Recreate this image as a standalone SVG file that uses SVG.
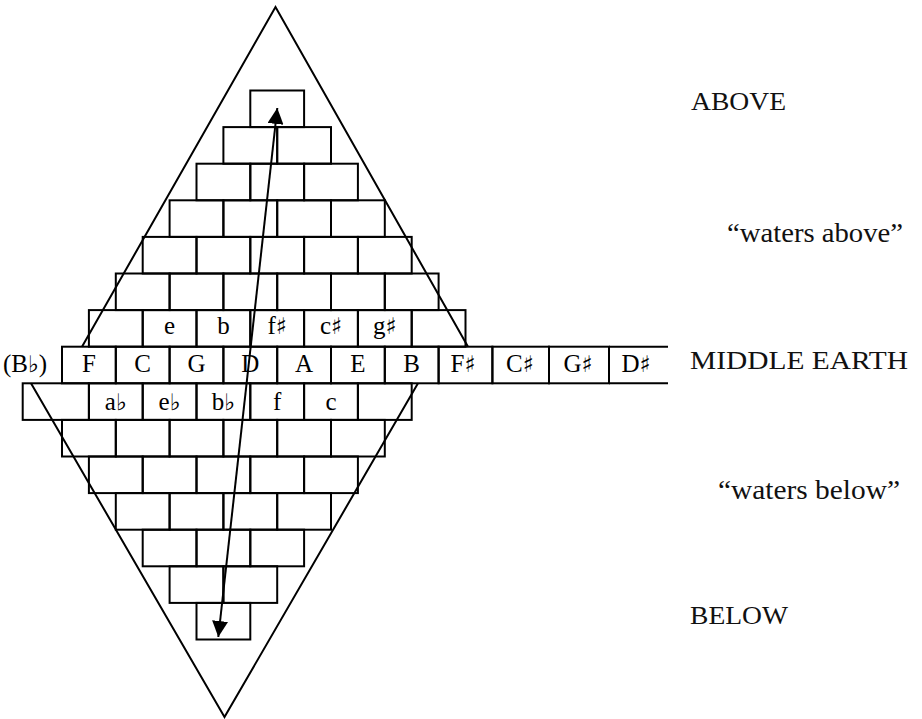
<svg xmlns="http://www.w3.org/2000/svg" width="922" height="719" viewBox="0 0 922 719">
  <style>
    .cell { fill: none; stroke: #000; stroke-width: 2; }
    .edge { fill: none; stroke: #000; stroke-width: 2; }
    .lbl { font-family: "Liberation Serif", "DejaVu Serif", serif; font-size: 25px; fill: #000; text-anchor: middle; }
    .side { font-family: "Liberation Serif", "DejaVu Serif", serif; font-size: 25px; fill: #111; }
    .low { font-size: 28px; }
    .acc { font-family: "DejaVu Serif", serif; font-size: 23px; }
  </style>
  <defs>
    <marker id="head" viewBox="0 0 15 15" refX="15" refY="7.5" markerWidth="16" markerHeight="16" markerUnits="userSpaceOnUse" orient="auto-start-reverse">
      <path d="M0,0 L15,7.5 L0,15 Z" fill="#000"/>
    </marker>
  </defs>
  <rect width="922" height="719" fill="#fff"/>

  <!-- upper half of the brick pyramid -->
  <g id="row-above-1">
    <rect class="cell" x="250.3" y="90.5" width="53.8" height="36.6"/>
  </g>
  <g id="row-above-2">
    <rect class="cell" x="223.4" y="127.1" width="53.8" height="36.6"/>
    <rect class="cell" x="277.2" y="127.1" width="53.8" height="36.6"/>
  </g>
  <g id="row-above-3">
    <rect class="cell" x="196.5" y="163.7" width="53.8" height="36.6"/>
    <rect class="cell" x="250.3" y="163.7" width="53.8" height="36.6"/>
    <rect class="cell" x="304.1" y="163.7" width="53.8" height="36.6"/>
  </g>
  <g id="row-above-4">
    <rect class="cell" x="169.6" y="200.3" width="53.8" height="36.6"/>
    <rect class="cell" x="223.4" y="200.3" width="53.8" height="36.6"/>
    <rect class="cell" x="277.2" y="200.3" width="53.8" height="36.6"/>
    <rect class="cell" x="331" y="200.3" width="53.8" height="36.6"/>
  </g>
  <g id="row-above-5">
    <rect class="cell" x="142.7" y="236.9" width="53.8" height="36.6"/>
    <rect class="cell" x="196.5" y="236.9" width="53.8" height="36.6"/>
    <rect class="cell" x="250.3" y="236.9" width="53.8" height="36.6"/>
    <rect class="cell" x="304.1" y="236.9" width="53.8" height="36.6"/>
    <rect class="cell" x="357.9" y="236.9" width="53.8" height="36.6"/>
  </g>
  <g id="row-above-6">
    <rect class="cell" x="115.8" y="273.5" width="53.8" height="36.6"/>
    <rect class="cell" x="169.6" y="273.5" width="53.8" height="36.6"/>
    <rect class="cell" x="223.4" y="273.5" width="53.8" height="36.6"/>
    <rect class="cell" x="277.2" y="273.5" width="53.8" height="36.6"/>
    <rect class="cell" x="331" y="273.5" width="53.8" height="36.6"/>
    <rect class="cell" x="384.8" y="273.5" width="53.8" height="36.6"/>
  </g>
  <g id="row-above-7">
    <rect class="cell" x="88.9" y="310.1" width="53.8" height="36.6"/>
    <rect class="cell" x="142.7" y="310.1" width="53.8" height="36.6"/>
    <rect class="cell" x="196.5" y="310.1" width="53.8" height="36.6"/>
    <rect class="cell" x="250.3" y="310.1" width="53.8" height="36.6"/>
    <rect class="cell" x="304.1" y="310.1" width="53.8" height="36.6"/>
    <rect class="cell" x="357.9" y="310.1" width="53.8" height="36.6"/>
    <rect class="cell" x="411.7" y="310.1" width="53.8" height="36.6"/>
    <text class="lbl" x="169.6" y="334">e</text>
    <text class="lbl" x="223.4" y="334">b</text>
    <text class="lbl" x="277.2" y="334">f<tspan class="acc">♯</tspan></text>
    <text class="lbl" x="331" y="334">c<tspan class="acc">♯</tspan></text>
    <text class="lbl" x="384.8" y="334">g<tspan class="acc">♯</tspan></text>
  </g>

  <!-- middle row: circle of fifths, open to the right -->
  <g id="row-middle">
    <rect class="cell" x="62" y="346.7" width="53.8" height="36.6"/>
    <rect class="cell" x="115.8" y="346.7" width="53.8" height="36.6"/>
    <rect class="cell" x="169.6" y="346.7" width="53.8" height="36.6"/>
    <rect class="cell" x="223.4" y="346.7" width="53.8" height="36.6"/>
    <rect class="cell" x="277.2" y="346.7" width="53.8" height="36.6"/>
    <rect class="cell" x="331" y="346.7" width="53.8" height="36.6"/>
    <rect class="cell" x="384.8" y="346.7" width="53.8" height="36.6"/>
    <rect class="cell" x="438.6" y="346.7" width="53.8" height="36.6"/>
    <rect class="cell" x="492.4" y="346.7" width="56.6" height="36.6"/>
    <rect class="cell" x="549" y="346.7" width="60" height="36.6"/>
    <path class="edge" d="M609,346.7 H668 M609,383.3 H668"/>
    <text class="lbl" x="25" y="372">(B<tspan class="acc">♭</tspan>)</text>
    <text class="lbl" x="88.9" y="372">F</text>
    <text class="lbl" x="142.7" y="372">C</text>
    <text class="lbl" x="196.5" y="372">G</text>
    <text class="lbl" x="250.3" y="372">D</text>
    <text class="lbl" x="304.1" y="372">A</text>
    <text class="lbl" x="357.9" y="372">E</text>
    <text class="lbl" x="411.7" y="372">B</text>
    <text class="lbl" x="463" y="372">F<tspan class="acc">♯</tspan></text>
    <text class="lbl" x="520" y="372">C<tspan class="acc">♯</tspan></text>
    <text class="lbl" x="578" y="372">G<tspan class="acc">♯</tspan></text>
    <text class="lbl" x="636" y="372">D<tspan class="acc">♯</tspan></text>
  </g>

  <!-- lower half of the brick pyramid -->
  <g id="row-below-1">
    <rect class="cell" x="22.7" y="383.3" width="66.2" height="36.6"/>
    <rect class="cell" x="88.9" y="383.3" width="53.8" height="36.6"/>
    <rect class="cell" x="142.7" y="383.3" width="53.8" height="36.6"/>
    <rect class="cell" x="196.5" y="383.3" width="53.8" height="36.6"/>
    <rect class="cell" x="250.3" y="383.3" width="53.8" height="36.6"/>
    <rect class="cell" x="304.1" y="383.3" width="53.8" height="36.6"/>
    <rect class="cell" x="357.9" y="383.3" width="53.8" height="36.6"/>
    <text class="lbl" x="115.8" y="410">a<tspan class="acc">♭</tspan></text>
    <text class="lbl" x="169.6" y="410">e<tspan class="acc">♭</tspan></text>
    <text class="lbl" x="223.4" y="410">b<tspan class="acc">♭</tspan></text>
    <text class="lbl" x="277.2" y="410">f</text>
    <text class="lbl" x="331" y="410">c</text>
  </g>
  <g id="row-below-2">
    <rect class="cell" x="62" y="419.9" width="53.8" height="36.6"/>
    <rect class="cell" x="115.8" y="419.9" width="53.8" height="36.6"/>
    <rect class="cell" x="169.6" y="419.9" width="53.8" height="36.6"/>
    <rect class="cell" x="223.4" y="419.9" width="53.8" height="36.6"/>
    <rect class="cell" x="277.2" y="419.9" width="53.8" height="36.6"/>
    <rect class="cell" x="331" y="419.9" width="53.8" height="36.6"/>
  </g>
  <g id="row-below-3">
    <rect class="cell" x="88.9" y="456.5" width="53.8" height="36.6"/>
    <rect class="cell" x="142.7" y="456.5" width="53.8" height="36.6"/>
    <rect class="cell" x="196.5" y="456.5" width="53.8" height="36.6"/>
    <rect class="cell" x="250.3" y="456.5" width="53.8" height="36.6"/>
    <rect class="cell" x="304.1" y="456.5" width="53.8" height="36.6"/>
  </g>
  <g id="row-below-4">
    <rect class="cell" x="115.8" y="493.1" width="53.8" height="36.6"/>
    <rect class="cell" x="169.6" y="493.1" width="53.8" height="36.6"/>
    <rect class="cell" x="223.4" y="493.1" width="53.8" height="36.6"/>
    <rect class="cell" x="277.2" y="493.1" width="53.8" height="36.6"/>
  </g>
  <g id="row-below-5">
    <rect class="cell" x="142.7" y="529.7" width="53.8" height="36.6"/>
    <rect class="cell" x="196.5" y="529.7" width="53.8" height="36.6"/>
    <rect class="cell" x="250.3" y="529.7" width="53.8" height="36.6"/>
  </g>
  <g id="row-below-6">
    <rect class="cell" x="169.6" y="566.3" width="53.8" height="36.6"/>
    <rect class="cell" x="223.4" y="566.3" width="53.8" height="36.6"/>
  </g>
  <g id="row-below-7">
    <rect class="cell" x="196.5" y="602.9" width="53.8" height="36.6"/>
  </g>

  <!-- connectors: the two triangles and the double arrow -->
  <g id="connectors">
    <path class="edge" d="M82,346.7 L275.5,7 L468,346.7"/>
    <path class="edge" d="M31,383.3 L224.5,717 L418,383.3"/>
    <line class="edge" x1="218.3" y1="637" x2="277.3" y2="108" marker-start="url(#head)" marker-end="url(#head)"/>
  </g>

  <!-- side captions -->
  <g id="captions">
    <text class="side" x="691" y="110" textLength="95" lengthAdjust="spacingAndGlyphs">ABOVE</text>
    <text class="side low" x="727" y="242" textLength="176" lengthAdjust="spacingAndGlyphs">“waters above”</text>
    <text class="side" x="690" y="369" textLength="218" lengthAdjust="spacingAndGlyphs">MIDDLE EARTH</text>
    <text class="side low" x="718" y="499" textLength="182" lengthAdjust="spacingAndGlyphs">“waters below”</text>
    <text class="side" x="690" y="624" textLength="98" lengthAdjust="spacingAndGlyphs">BELOW</text>
  </g>
</svg>
